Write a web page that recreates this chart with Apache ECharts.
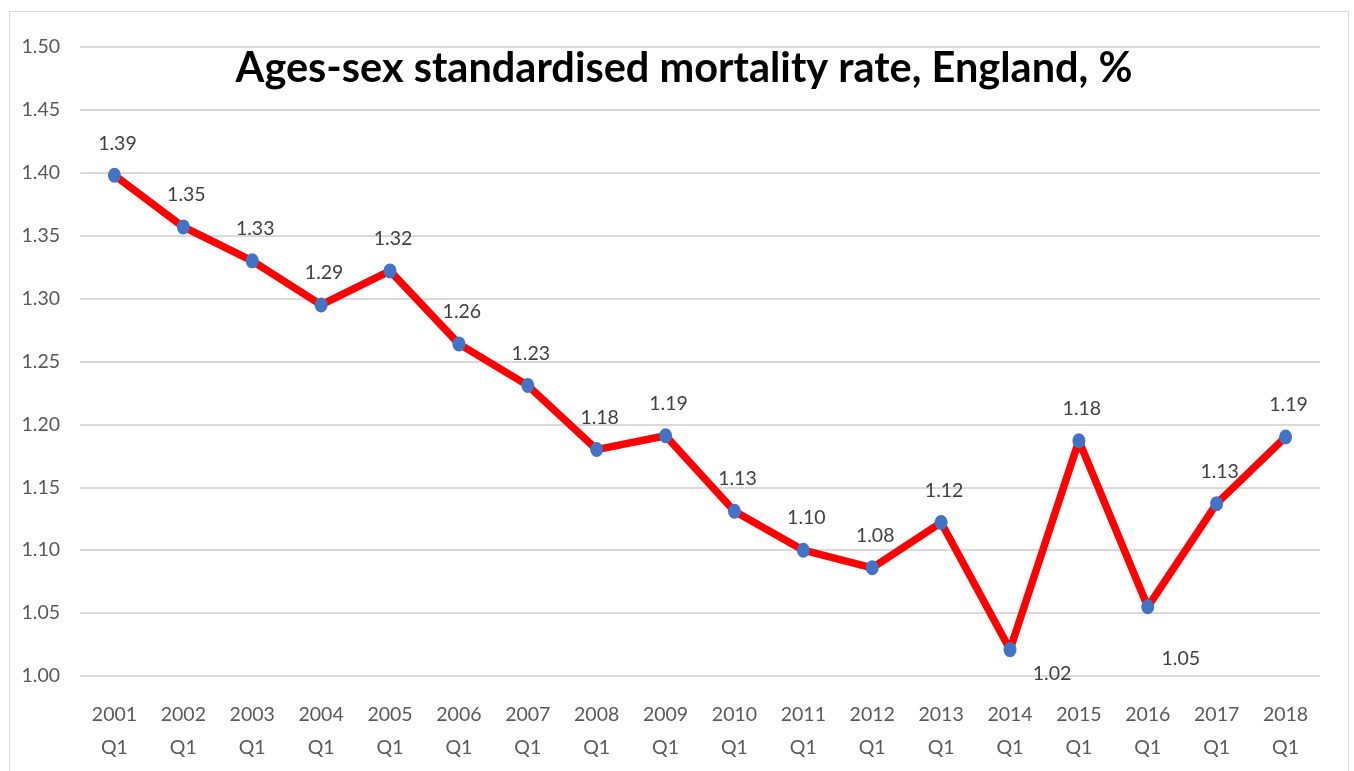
<!DOCTYPE html>
<html><head><meta charset="utf-8">
<script src="https://cdn.jsdelivr.net/npm/echarts@6/dist/echarts.min.js"></script>
<style>html,body{margin:0;padding:0;background:#fff}#c{width:1354px;height:771px}
#frame{position:absolute;left:9px;top:11px;width:1340px;height:780px;border:1px solid #d9d9d9;box-sizing:border-box;pointer-events:none}</style>
</head><body><div id="c"></div><div id="frame"></div>
<script>
const categories = ['2001\nQ1','2002\nQ1','2003\nQ1','2004\nQ1','2005\nQ1','2006\nQ1','2007\nQ1','2008\nQ1','2009\nQ1','2010\nQ1','2011\nQ1','2012\nQ1','2013\nQ1','2014\nQ1','2015\nQ1','2016\nQ1','2017\nQ1','2018\nQ1'];
const mortality = [1.398,1.357,1.330,1.295,1.322,1.264,1.231,1.180,1.191,1.131,1.100,1.086,1.122,1.021,1.187,1.055,1.137,1.190];
const yTicks = {min:1.00, max:1.50, interval:0.05};

const below = {13:[42,24], 15:[33,52]};
const data = mortality.map((v,i)=>({value:v, label:{offset: below[i] || [3,-32]}}));
const font = 'Lato, "Open Sans", sans-serif';
const chart = echarts.init(document.getElementById('c'));
chart.setOption({
  animation:false,
  title:{text:'Ages-sex standardised mortality rate, England, %', left:679, top:43, textAlign:'center',
    textStyle:{fontFamily:font, fontWeight:'bold', fontSize:41.5, color:'#000'}},
  grid:{left:80, right:34, top:47, bottom:95},
  xAxis:{type:'category', data:categories, boundaryGap:true,
    axisLine:{show:false}, axisTick:{show:false},
    axisLabel:{fontFamily:font, fontSize:19.5, color:'#595959', margin:22, lineHeight:33}},
  yAxis:{type:'value', min:yTicks.min, max:yTicks.max, interval:yTicks.interval,
    axisLine:{show:false}, axisTick:{show:false},
    axisLabel:{fontFamily:font, fontSize:19.5, color:'#595959', margin:20, formatter:v=>v.toFixed(2)},
    splitLine:{lineStyle:{color:'#d9d9d9', width:2}}},
  series:[{type:'line', data:data, symbol:'circle', symbolSize:[13,15],
    lineStyle:{color:'#ff0000', width:7.5}, itemStyle:{color:'#4472c4'},
    label:{show:true, position:'inside', fontFamily:font, fontSize:19.5, color:'#404040',
      formatter:p=>(Math.floor(p.value*100+1e-6)/100).toFixed(2)}}]
});
</script></body></html>
